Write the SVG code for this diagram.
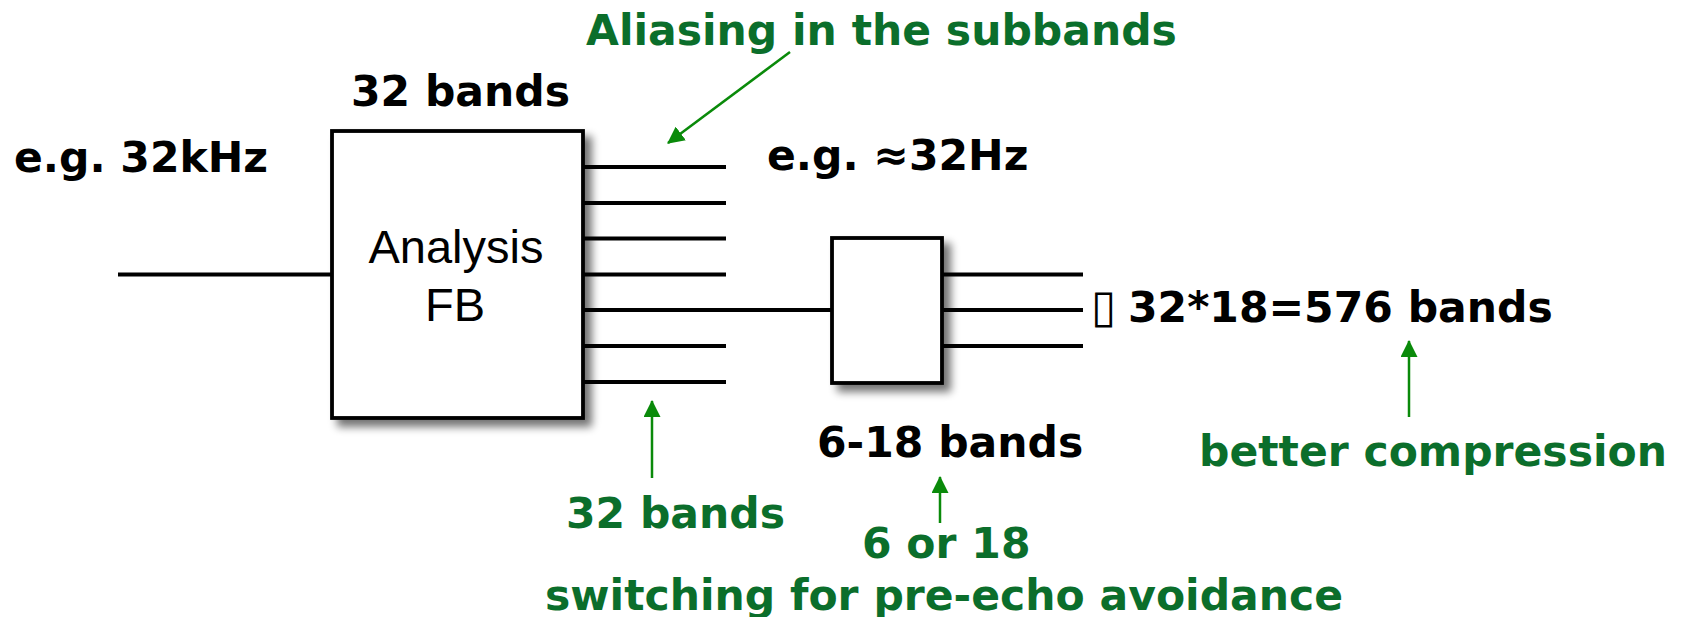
<svg xmlns="http://www.w3.org/2000/svg" width="1684" height="617" viewBox="0 0 1684 617">
<style>
  .lbl { font-family: "DejaVu Sans", "Liberation Sans", sans-serif; font-weight: bold; font-size: 42.5px; }
  .blk { fill: #000; }
  .grn { fill: #0b6e2b; }
  .box { fill: #fff; stroke: #000; stroke-width: 3.8; }
  .wire { stroke: #000; stroke-width: 3.8; fill: none; }
  .garrow { stroke: #0a8a0a; stroke-width: 2.5; fill: none; marker-end: url(#ah); }
  .fb { font-family: "Liberation Sans", Arial, sans-serif; font-size: 47px; fill: #000; }
  .tofu { font-weight: normal; font-size: 46px; }
</style>
<defs>
  <marker id="ah" viewBox="0 0 16 16" refX="15" refY="8" markerWidth="17" markerHeight="17" markerUnits="userSpaceOnUse" orient="auto">
    <path d="M0,0 L16,8 L0,16 Z" fill="#0a8a0a"/>
  </marker>
  <filter id="sh" x="-10%" y="-10%" width="130%" height="130%">
    <feGaussianBlur in="SourceAlpha" stdDeviation="4"/>
    <feOffset dx="7" dy="7" result="b"/>
    <feComponentTransfer in="b" result="c"><feFuncA type="linear" slope="0.55"/></feComponentTransfer>
    <feMerge><feMergeNode in="c"/><feMergeNode in="SourceGraphic"/></feMerge>
  </filter>
</defs>
<rect width="1684" height="617" fill="#fff"/>

<g id="connectors">
  <line class="wire" x1="118" y1="274.5" x2="332" y2="274.5"/>
  <line class="wire" x1="583" y1="167" x2="726" y2="167"/>
  <line class="wire" x1="583" y1="203" x2="726" y2="203"/>
  <line class="wire" x1="583" y1="238.5" x2="726" y2="238.5"/>
  <line class="wire" x1="583" y1="274.5" x2="726" y2="274.5"/>
  <line class="wire" x1="583" y1="310" x2="832" y2="310"/>
  <line class="wire" x1="583" y1="346" x2="726" y2="346"/>
  <line class="wire" x1="583" y1="382" x2="726" y2="382"/>
  <line class="wire" x1="942" y1="274.5" x2="1083" y2="274.5"/>
  <line class="wire" x1="942" y1="310" x2="1083" y2="310"/>
  <line class="wire" x1="942" y1="346" x2="1083" y2="346"/>
  <line class="garrow" x1="790" y1="52" x2="668" y2="143"/>
  <line class="garrow" x1="652" y1="478" x2="652" y2="401"/>
  <line class="garrow" x1="940" y1="523" x2="940" y2="477"/>
  <line class="garrow" x1="1409" y1="417" x2="1409" y2="341"/>
</g>

<g id="analysis-fb">
  <rect class="box" x="332" y="131" width="251" height="287" filter="url(#sh)"/>
  <text class="fb" x="456" y="263" text-anchor="middle">Analysis</text>
  <text class="fb" x="455" y="321" text-anchor="middle">FB</text>
</g>

<g id="mdct-box">
  <rect class="box" x="832" y="238" width="110" height="145" filter="url(#sh)"/>
</g>

<g id="labels">
  <text class="lbl blk" x="14" y="172">e.g. 32kHz</text>
  <text class="lbl blk" x="351" y="106">32 bands</text>
  <text class="lbl grn" x="586" y="45">Aliasing in the subbands</text>
  <text class="lbl blk" x="767" y="170">e.g. ≈32Hz</text>
  <text class="lbl blk" x="1091" y="322"><tspan class="tofu">▯</tspan><tspan x="1128">32*18=576 bands</tspan></text>
  <text class="lbl blk" x="817" y="457">6-18 bands</text>
  <text class="lbl grn" x="1199" y="466">better compression</text>
  <text class="lbl grn" x="566" y="528">32 bands</text>
  <text class="lbl grn" x="862" y="558">6 or 18</text>
  <text class="lbl grn" x="545" y="610">switching for pre-echo avoidance</text>
</g>
</svg>
